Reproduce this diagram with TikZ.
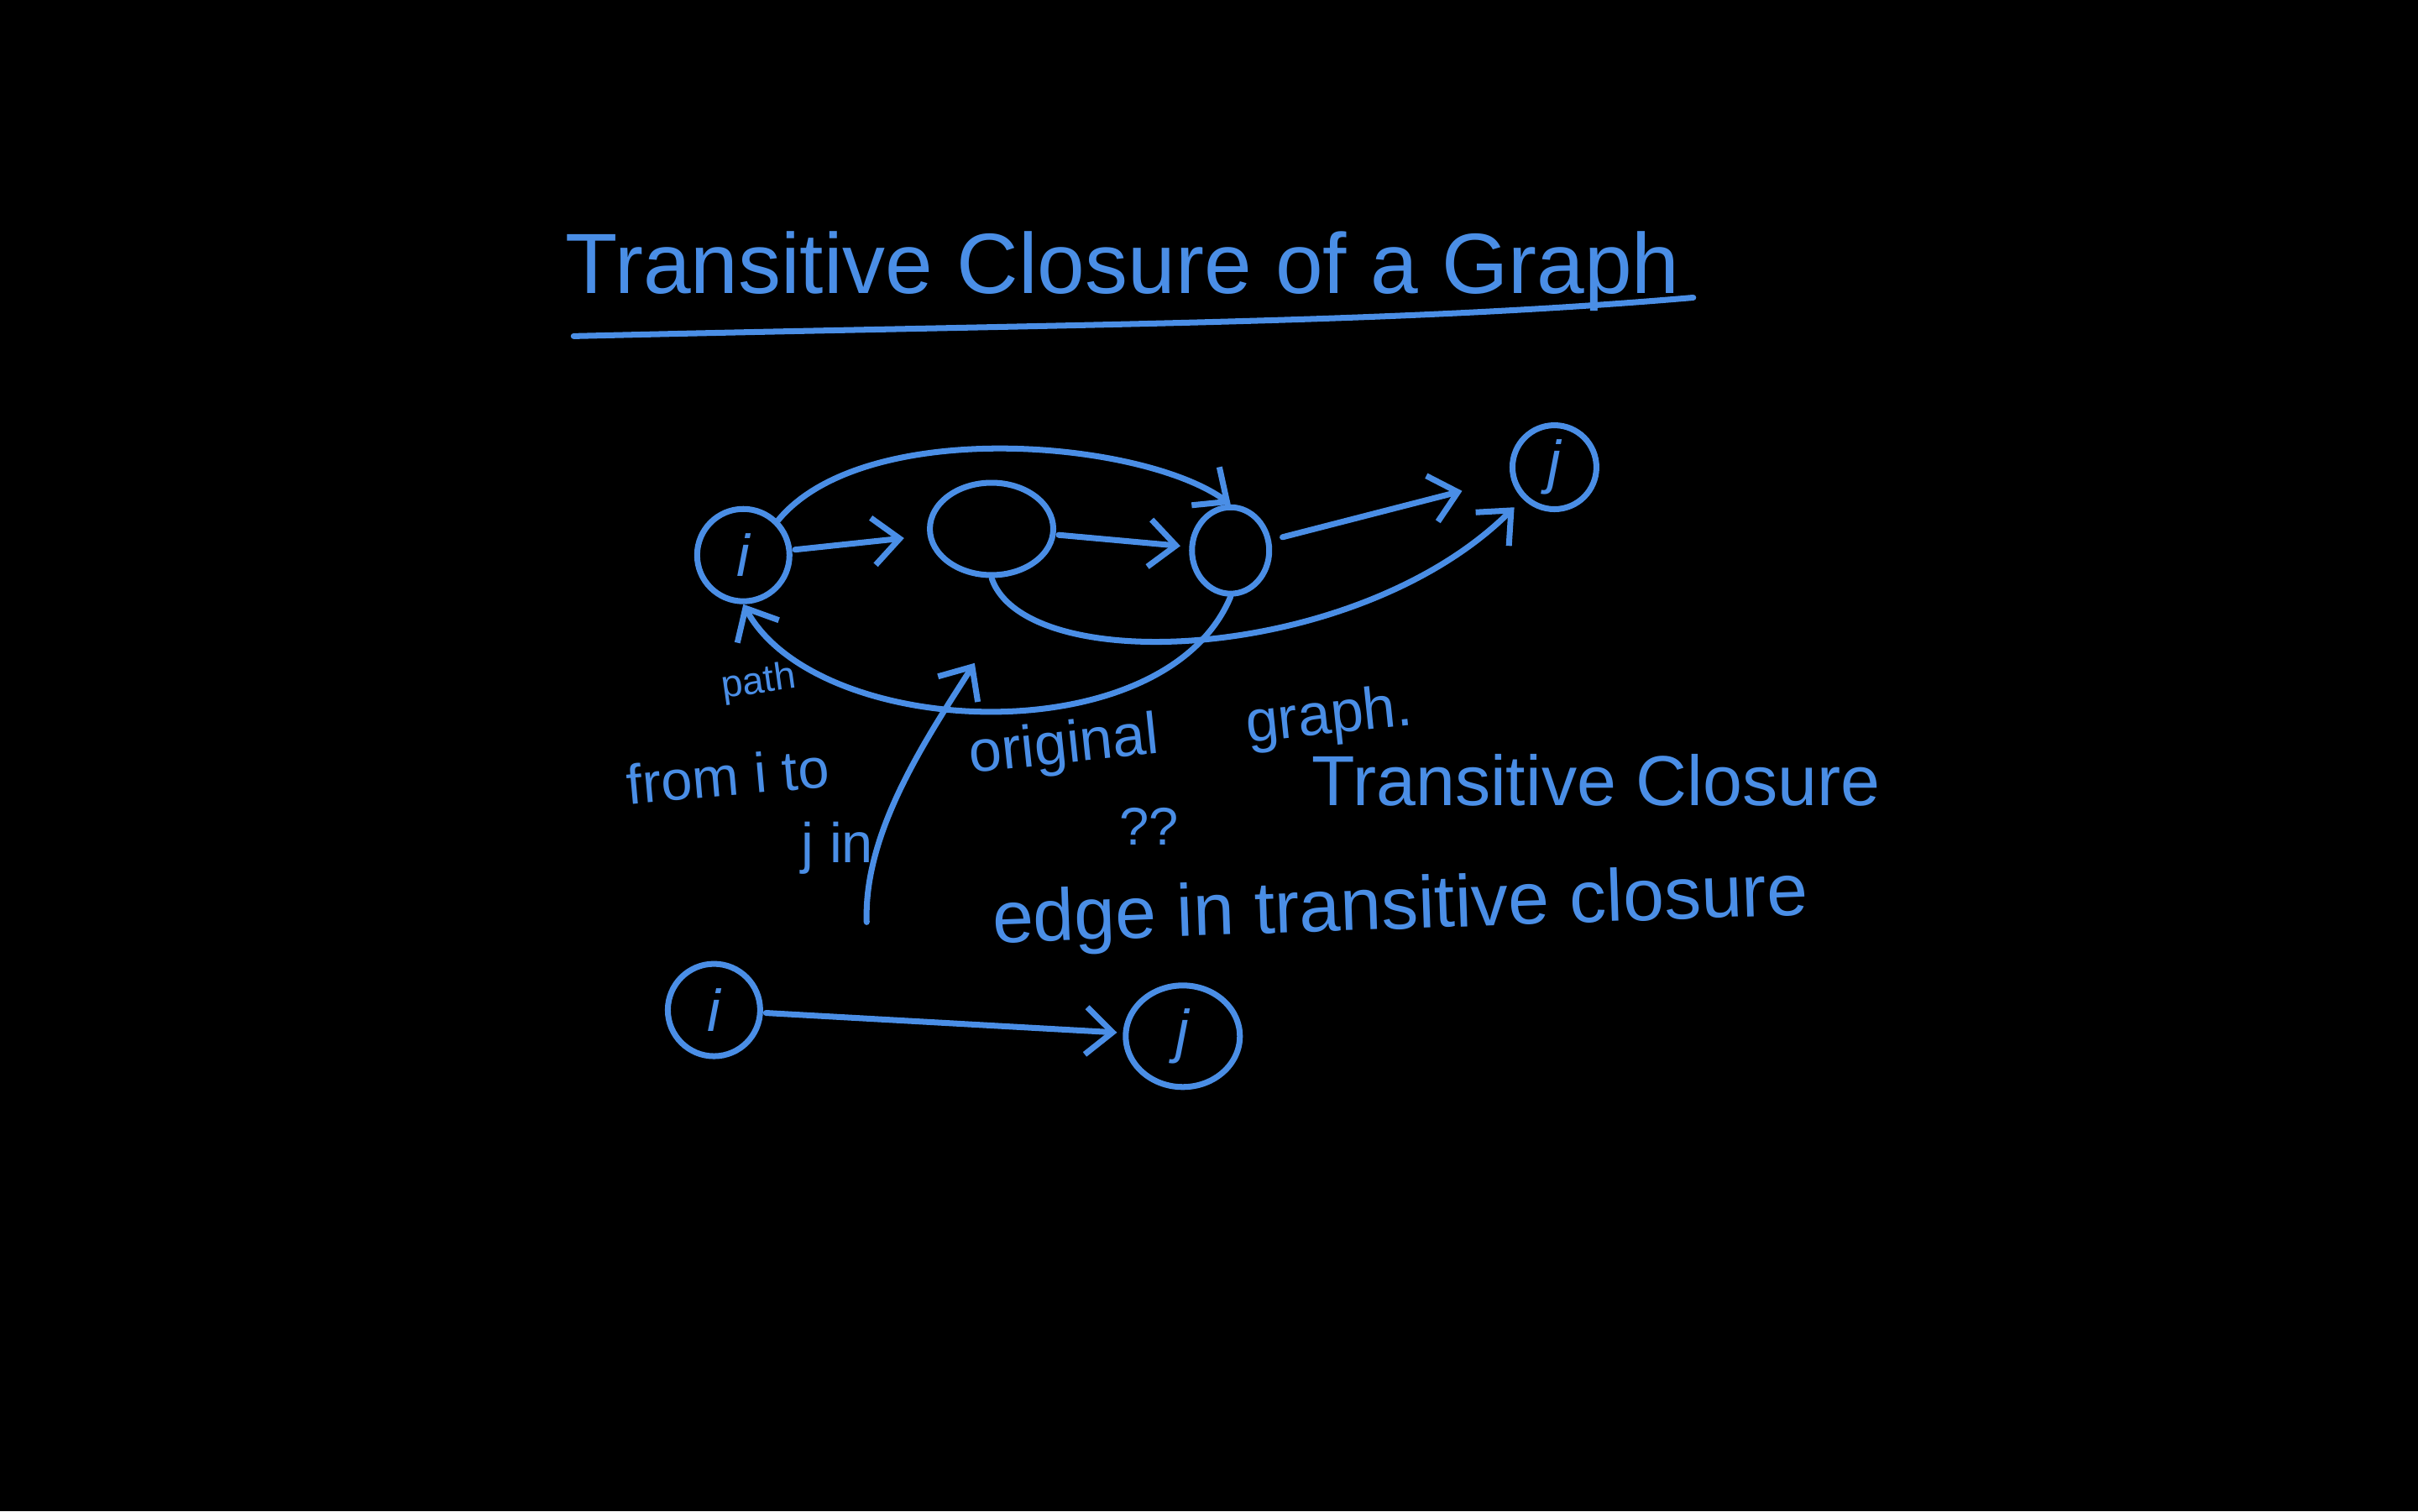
\documentclass[tikz,border=0pt]{standalone}
\usepackage{fontspec}
\setmainfont{Liberation Sans}
\usetikzlibrary{shapes.geometric, arrows.meta, positioning}
\definecolor{chalk}{RGB}{74, 142, 230}
\tikzset{
    vtx/.style={circle, draw=chalk, line width=2pt, minimum size=1.1cm, inner sep=0pt, text=chalk, font=\fontsize{20}{22}\selectfont\itshape},
    blob/.style={ellipse, draw=chalk, line width=2pt, inner sep=0pt},
    arr/.style={-{Straight Barb[length=9pt, width=16pt]}, line width=2pt, draw=chalk, line cap=round},
    stroke/.style={line width=2pt, draw=chalk, line cap=round},
    hand/.style={text=chalk, inner sep=0pt}
}
\newcommand{\handsz}[1]{\fontsize{#1}{#1}\selectfont}

\begin{document}
\begin{tikzpicture}[x=0.01837cm, y=-0.01837cm]
    \fill[black] (0,0) rectangle (1568,980);

    % title
    \node[hand, font=\handsz{29pt}] (title) at (728,176) {Transitive Closure of a Graph};
    \draw[stroke] (372,218) .. controls (700,210) and (900,210) .. (1098,193);

    % graph with a path from i to j
    \node[vtx] (ti) at (482,360) {i};
    \node[blob, minimum width=1.47cm, minimum height=1.1cm] (ma) at (643,343) {};
    \node[blob, minimum width=0.92cm, minimum height=1.03cm] (mb) at (798,357) {};
    \node[vtx, minimum size=1.0cm] (tj) at (1008,303) {j};

    \draw[arr, shorten <=1pt, shorten >=8pt] (ti) -- (ma);
    \draw[arr, shorten <=1pt, shorten >=3pt] (ma) -- (mb);
    \draw[arr, shorten <=4pt, shorten >=0.6cm] (mb) -- (tj);
    \draw[arr] (ti.north east) .. controls (560,270) and (740,285) .. (mb.north);
    \draw[arr, shorten >=4pt] (ma.south) .. controls (665,440) and (880,430) .. (tj.south west);
    \draw[arr] (mb.south) .. controls (755,490) and (530,480) .. (ti.south);

    % notes
    \node[hand, font=\handsz{13pt}, rotate=8] (npath) at (492,443) {path};
    \node[hand, font=\handsz{19pt}, rotate=5] (nfrom) at (472,503) {from i to};
    \node[hand, font=\handsz{19pt}] (nj) at (543,550) {j in};
    \node[hand, font=\handsz{20pt}, rotate=6] (norig) at (690,485) {original};
    \node[hand, font=\handsz{18pt}] (nq) at (745,536) {??};
    \node[hand, font=\handsz{20pt}, rotate=6] (ngraph) at (862,466) {graph.};
    \node[hand, font=\handsz{24pt}] (ntc) at (1035,506) {Transitive Closure};
    \node[hand, font=\handsz{25pt}, rotate=2] (nedge) at (908,590) {edge in transitive closure};

    \coordinate (pfoot) at (562,598);
    \coordinate (ptip) at (632,430);
    \draw[arr] (pfoot) .. controls (560,540) and (600,480) .. (ptip);

    % single edge of the closure
    \node[vtx] (bi) at (463,655) {i};
    \node[vtx, ellipse, minimum width=1.36cm, minimum height=1.21cm] (bj) at (767,672) {j};
    \draw[arr, shorten <=1pt, shorten >=2pt] (bi) -- (bj);
\end{tikzpicture}
\end{document}
